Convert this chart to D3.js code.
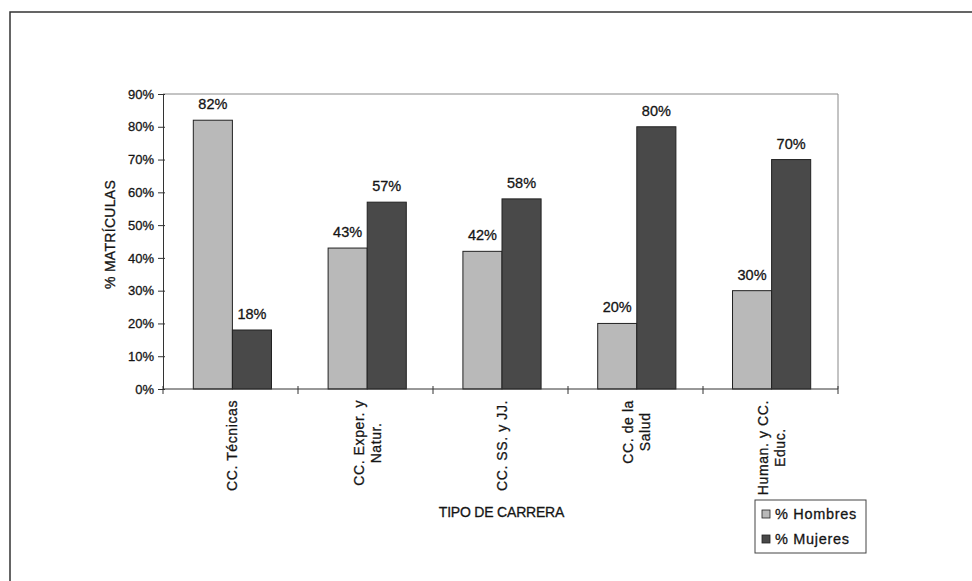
<!DOCTYPE html>
<html>
<head>
<meta charset="utf-8">
<script src="https://cdn.jsdelivr.net/npm/d3@7"></script>
<style>
  body { margin: 0; background: #fff; }
  svg text { font-family: "Liberation Sans", Arial, sans-serif; fill: #151515; stroke: #151515; stroke-width: 0.3px; }
</style>
</head>
<body>
<div id="chart"></div>
<script>
// Data
const categories = [
  ["CC. Técnicas"],
  ["CC. Exper. y", "Natur."],
  ["CC. SS. y JJ."],
  ["CC. de la", "Salud"],
  ["Human. y CC.", "Educ."]
];
const series = ["% Hombres", "% Mujeres"];
const hombres = [82, 43, 42, 20, 30];
const mujeres = [18, 57, 58, 80, 70];
const yTicks = [0, 10, 20, 30, 40, 50, 60, 70, 80, 90];

const W = 972, H = 581;
const margin = { top: 94, right: 134, bottom: 192, left: 163 };
const width = W - margin.left - margin.right;
const height = H - margin.top - margin.bottom;

const colors = { "% Hombres": "#b9b9b9", "% Mujeres": "#494949" };

const svg = d3.select("#chart").append("svg")
  .attr("width", W)
  .attr("height", H);

// outer frame (runs off the right and bottom edges)
svg.append("rect")
  .attr("x", 10).attr("y", 12)
  .attr("width", 980).attr("height", 600)
  .attr("fill", "none")
  .attr("stroke", "#333")
  .attr("stroke-width", 1.5);

const g = svg.append("g")
  .attr("transform", `translate(${margin.left},${margin.top})`);

// Scales
const x0 = d3.scaleBand()
  .domain(d3.range(categories.length))
  .range([2, width + 1])
  .paddingInner(0.42)
  .paddingOuter(0.21);

const x1 = d3.scaleBand()
  .domain(series)
  .range([0, x0.bandwidth()]);

const y = d3.scaleLinear()
  .domain([0, 90])
  .range([height, 0]);

// plot area border (top/right)
g.append("path")
  .attr("d", `M0,0H${width}V${height}`)
  .attr("fill", "none")
  .attr("stroke", "#888")
  .attr("stroke-width", 1);

// Bars
const rows = categories.map((c, i) => ({ i, values: [hombres[i], mujeres[i]] }));

const groups = g.selectAll(".grp")
  .data(rows)
  .enter().append("g")
  .attr("class", "grp")
  .attr("transform", d => `translate(${x0(d.i)},0)`);

groups.selectAll("rect")
  .data(d => d.values.map((v, k) => ({ key: series[k], v })))
  .enter().append("rect")
  .attr("x", d => x1(d.key))
  .attr("y", d => y(d.v))
  .attr("width", x1.bandwidth())
  .attr("height", d => height - y(d.v))
  .attr("fill", d => colors[d.key])
  .attr("stroke", "#222")
  .attr("stroke-width", 1);

groups.selectAll(".val")
  .data(d => d.values.map((v, k) => ({ key: series[k], v })))
  .enter().append("text")
  .attr("class", "val")
  .attr("x", d => x1(d.key) + x1.bandwidth() / 2)
  .attr("y", d => y(d.v) - 11)
  .attr("text-anchor", "middle")
  .style("font-size", "14.5px")
  .text(d => d.v + "%");

// Y axis
const yAxis = d3.axisLeft(y)
  .tickValues(yTicks)
  .tickSize(5)
  .tickPadding(4)
  .tickFormat(d => d + "%");

const yg = g.append("g").call(yAxis);
yg.select(".domain").attr("stroke", "#333");
yg.selectAll(".tick line").attr("stroke", "#333").attr("x2", -5).attr("x1", 2);
yg.selectAll(".tick text").style("font-size", "13px").attr("fill", "#151515");

// X axis: line with tick marks between categories
g.append("line")
  .attr("x1", 0).attr("x2", width)
  .attr("y1", height).attr("y2", height)
  .attr("stroke", "#333");

const boundaries = d3.range(categories.length + 1).map(i => i * (width / categories.length));
g.selectAll(".xtick")
  .data(boundaries)
  .enter().append("line")
  .attr("class", "xtick")
  .attr("x1", d => d).attr("x2", d => d)
  .attr("y1", height - 3).attr("y2", height + 5)
  .attr("stroke", "#333");

// Category labels, rotated
const labelTop = height + 11;
categories.forEach((lines, i) => {
  const cx = x0(i) + x0.bandwidth() / 2;
  const t = g.append("text")
    .attr("text-anchor", "middle")
    .style("font-size", "14px")
    .style("letter-spacing", "0.6px");
  const lineH = 17;
  const n = lines.length;
  lines.forEach((ln, j) => {
    t.append("tspan")
      .attr("x", 0)
      .attr("dy", j === 0 ? (-(n - 1) * lineH / 2 + 5) : lineH)
      .text(ln);
  });
  // measure longest line to place the block's top at labelTop
  let maxLen = 0;
  t.selectAll("tspan").each(function() {
    maxLen = Math.max(maxLen, this.getComputedTextLength());
  });
  t.attr("transform", `translate(${cx},${labelTop + maxLen / 2}) rotate(-90)`);
});

// Axis titles
g.append("text")
  .attr("transform", `translate(-48,${height / 2 - 7}) rotate(-90)`)
  .attr("text-anchor", "middle")
  .style("font-size", "14px")
  .style("letter-spacing", "0.3px")
  .text("% MATRÍCULAS");

g.append("text")
  .attr("x", width / 2 + 1)
  .attr("y", height + 128)
  .attr("text-anchor", "middle")
  .style("font-size", "14px")
  .style("letter-spacing", "-0.2px")
  .text("TIPO DE CARRERA");

// Legend
const legend = svg.append("g")
  .attr("transform", "translate(755,500)");

legend.append("rect")
  .attr("width", 111).attr("height", 53)
  .attr("fill", "#fff")
  .attr("stroke", "#444")
  .attr("stroke-width", 1);

const li = legend.selectAll(".li")
  .data(series)
  .enter().append("g")
  .attr("transform", (d, i) => `translate(7,${19 + i * 25})`);

li.append("rect")
  .attr("x", 0).attr("y", -9)
  .attr("width", 8).attr("height", 8)
  .attr("fill", d => colors[d])
  .attr("stroke", "#222")
  .attr("stroke-width", 0.8);

li.append("text")
  .attr("x", 13)
  .attr("y", 0)
  .style("font-size", "14.5px")
  .style("letter-spacing", "0.7px")
  .text(d => d);
</script>
</body>
</html>
